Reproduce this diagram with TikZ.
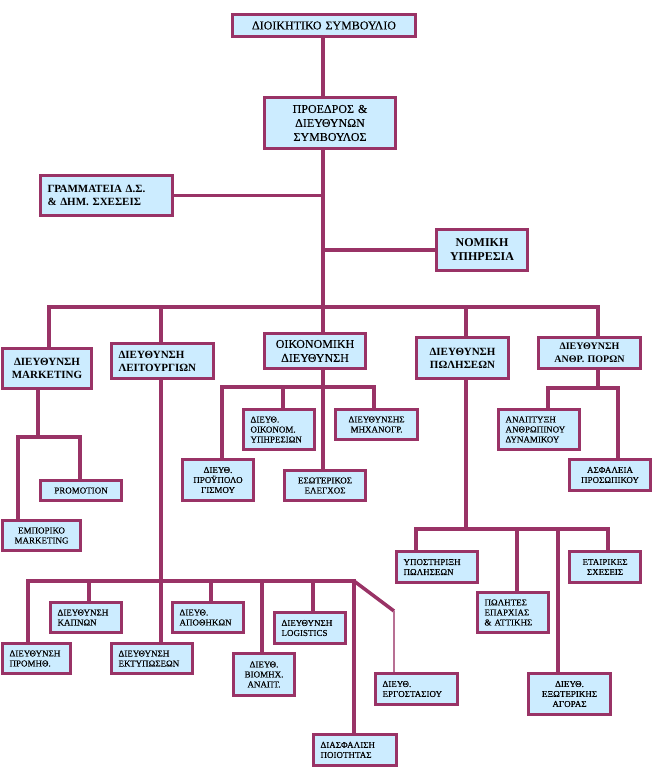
\documentclass[tikz,border=0pt]{standalone}
\usepackage{fontspec}
\setmainfont{Liberation Serif}
\newfontfamily\regfont{Liberation Serif}[FakeBold=0.35]
\newfontfamily\bigregfont{Liberation Serif}[FakeBold=0.1]
\definecolor{bord}{HTML}{993366}
\definecolor{boxfill}{HTML}{CCECFF}
\tikzset{
  box/.style={draw=bord, fill=boxfill, line width=3pt, inner ysep=0pt, inner xsep=7pt, font=\regfont\fontsize{9}{10}\selectfont},
  conn/.style={draw=bord, line width=3.5pt},
  thinconn/.style={draw=bord!70, line width=1.8pt},
  big/.style={font=\bigregfont\fontsize{12}{14}\selectfont},
  bold12/.style={font=\fontsize{12}{14}\selectfont\bfseries},
  bold11/.style={font=\fontsize{11}{13}\selectfont\bfseries},
  bold10/.style={font=\fontsize{10}{12.5}\selectfont\bfseries},
  L/.style={align=left},
  C/.style={align=center},
}
\newcommand\obox[7]{%
  \pgfmathsetmacro\oBW{#4-#2}\pgfmathsetmacro\oBH{#5-#3}\pgfmathsetmacro\oTW{#4-#2-14}%
  \node[box,#6,anchor=north west,minimum width=\oBW pt,minimum height=\oBH pt,text width=\oTW pt] (#1) at (#2,#3) {#7};}
\begin{document}
\begin{tikzpicture}[x=1pt,y=-1pt]
\useasboundingbox (0,0) rectangle (655,768);
% top level
\obox{dsb}{231}{13}{414}{35}{C,big}{ΔΙΟΙΚΗΤΙΚΟ ΣΥΜΒΟΥΛΙΟ}
\obox{pres}{263}{96}{394}{147}{C,big}{ΠΡΟΕΔΡΟΣ \&\\ΔΙΕΥΘΥΝΩΝ\\ΣΥΜΒΟΥΛΟΣ}
\obox{gram}{39}{174}{171}{214}{L,bold11}{ΓΡΑΜΜΑΤΕΙΑ Δ.Σ.\\\& ΔΗΜ. ΣΧΕΣΕΙΣ}
\obox{nom}{435}{228}{526}{269}{C,bold12}{ΝΟΜΙΚΗ\\ΥΠΗΡΕΣΙΑ}
% directorates
\obox{mkt}{1}{347}{90}{387}{C,bold11}{ΔΙΕΥΘΥΝΣΗ\\MARKETING}
\obox{leit}{110}{342}{212}{377}{L,bold11}{ΔΙΕΥΘΥΝΣΗ\\ΛΕΙΤΟΥΡΓΙΩΝ}
\obox{oik}{263}{332}{364}{367}{C,big}{ΟΙΚΟΝΟΜΙΚΗ\\ΔΙΕΥΘΥΝΣΗ}
\obox{pol}{415}{336}{507}{377}{C,bold11}{ΔΙΕΥΘΥΝΣΗ\\ΠΩΛΗΣΕΩΝ}
\obox{anth}{537}{336}{639}{367}{C,bold10}{ΔΙΕΥΘΥΝΣΗ\\ΑΝΘΡ. ΠΟΡΩΝ}
% marketing
\obox{promo}{39}{479}{120}{499}{C}{PROMOTION}
\obox{emp}{1}{519}{79}{549}{C}{ΕΜΠΟΡΙΚΟ\\MARKETING}
% finance
\obox{oikyp}{242}{408}{313}{448}{L}{ΔΙΕΥΘ.\\ΟΙΚΟΝΟΜ.\\ΥΠΗΡΕΣΙΩΝ}
\obox{prou}{181}{458}{252}{499}{C}{ΔΙΕΥΘ.\\ΠΡΟΫΠΟΛΟ\\ΓΙΣΜΟΥ}
\obox{esot}{283}{469}{364}{499}{C}{ΕΣΩΤΕΡΙΚΟΣ\\ΕΛΕΓΧΟΣ}
\obox{mix}{334}{408}{416}{438}{C}{ΔΙΕΥΘΥΝΣΗΣ\\ΜΗΧΑΝΟΓΡ.}
% HR
\obox{anap}{497}{408}{578}{448}{L}{ΑΝΑΠΤΥΞΗ\\ΑΝΘΡΩΠΙΝΟΥ\\ΔΥΝΑΜΙΚΟΥ}
\obox{asf}{568}{458}{649}{489}{C}{ΑΣΦΑΛΕΙΑ\\ΠΡΟΣΩΠΙΚΟΥ}
% sales
\obox{ypo}{395}{550}{476}{581}{L}{ΥΠΟΣΤΗΡΙΞΗ\\ΠΩΛΗΣΕΩΝ}
\obox{etair}{568}{550}{639}{581}{C}{ΕΤΑΙΡΙΚΕΣ\\ΣΧΕΣΕΙΣ}
\obox{polit}{476}{591}{547}{631}{L}{ΠΩΛΗΤΕΣ\\ΕΠΑΡΧΙΑΣ\\\& ΑΤΤΙΚΗΣ}
\obox{exot}{527}{672}{609}{713}{C}{ΔΙΕΥΘ.\\ΕΞΩΤΕΡΙΚΗΣ\\ΑΓΟΡΑΣ}
% operations
\obox{prom}{1}{642}{69}{672}{L}{ΔΙΕΥΘΥΝΣΗ\\ΠΡΟΜΗΘ.}
\obox{kapn}{49}{601}{120}{631}{L}{ΔΙΕΥΘΥΝΣΗ\\ΚΑΠΝΩΝ}
\obox{ekt}{110}{642}{191}{672}{L}{ΔΙΕΥΘΥΝΣΗ\\ΕΚΤΥΠΩΣΕΩΝ}
\obox{apoth}{171}{601}{242}{631}{L}{ΔΙΕΥΘ.\\ΑΠΟΘΗΚΩΝ}
\obox{viom}{232}{652}{293}{694}{C}{ΔΙΕΥΘ.\\ΒΙΟΜΗΧ.\\ΑΝΑΠΤ.}
\obox{logist}{273}{611}{344}{642}{L}{ΔΙΕΥΘΥΝΣΗ\\LOGISTICS}
\obox{diasf}{312}{733}{395}{764}{L}{ΔΙΑΣΦΑΛΙΣΗ\\ΠΟΙΟΤΗΤΑΣ}
\obox{ergo}{374}{672}{456}{703}{L}{ΔΙΕΥΘ.\\ΕΡΓΟΣΤΑΣΙΟΥ}
% coordinates
\coordinate (m) at (323,307);
\coordinate (b1) at (49,307);
\coordinate (b2) at (161,307);
\coordinate (b3) at (466,307);
\coordinate (b4) at (598,307);
\coordinate (mk0) at (18,437);
\coordinate (mk1) at (38,437);
\coordinate (mk2) at (80,437);
\coordinate (o1) at (222,387);
\coordinate (o2) at (283,387);
\coordinate (o3) at (374,387);
\coordinate (h1) at (548,388);
\coordinate (h2) at (618,388);
\coordinate (s1) at (416,529);
\coordinate (s2) at (517,529);
\coordinate (s3) at (558,529);
\coordinate (s4) at (608,529);
\coordinate (p1) at (28,581);
\coordinate (p2) at (89,581);
\coordinate (p4) at (211,581);
\coordinate (p5) at (262,581);
\coordinate (p6) at (313,581);
\coordinate (p7) at (354,581);
\coordinate (pd) at (394,611);
% connectors
\draw[conn] (dsb.south -| m) -- (pres.north -| m);
\draw[conn] (pres.south -| m) -- (m);
\draw[conn] (gram.east) -- (gram.east -| m);
\draw[conn] (nom.west) -- (nom.west -| m);
\draw[conn] (mkt.north -| b1) -- (b1) -- (b4) -- (anth.north -| b4);
\draw[conn] (b2) -- (leit.north -| b2);
\draw[conn] (m) -- (oik.north -| m);
\draw[conn] (b3) -- (pol.north -| b3);
% marketing
\draw[conn] (mkt.south -| mk1) -- (mk1);
\draw[conn] (emp.north -| mk0) -- (mk0) -- (mk2) -- (promo.north -| mk2);
% finance
\draw[conn] (oik.south -| m) -- (esot.north -| m);
\draw[conn] (prou.north -| o1) -- (o1) -- (o3) -- (mix.north -| o3);
\draw[conn] (o2) -- (oikyp.north -| o2);
% HR
\draw[conn] (anth.south -| b4) -- (b4 |- h1);
\draw[conn] (anap.north -| h1) -- (h1) -- (h2) -- (asf.north -| h2);
% sales
\draw[conn] (pol.south -| b3) -- (b3 |- s1);
\draw[conn] (ypo.north -| s1) -- (s1) -- (s4) -- (etair.north -| s4);
\draw[conn] (s2) -- (polit.north -| s2);
\draw[conn] (s3) -- (exot.north -| s3);
% operations
\draw[conn] (leit.south -| b2) -- (ekt.north -| b2);
\draw[conn] (prom.north -| p1) -- (p1) -- (p7) -- (diasf.north -| p7);
\draw[conn] (p2) -- (kapn.north -| p2);
\draw[conn] (p4) -- (apoth.north -| p4);
\draw[conn] (p5) -- (viom.north -| p5);
\draw[conn] (p6) -- (logist.north -| p6);
\draw[conn] (p7) -- (pd);
\draw[thinconn] (pd) -- (ergo.north -| pd);
\end{tikzpicture}
\end{document}
